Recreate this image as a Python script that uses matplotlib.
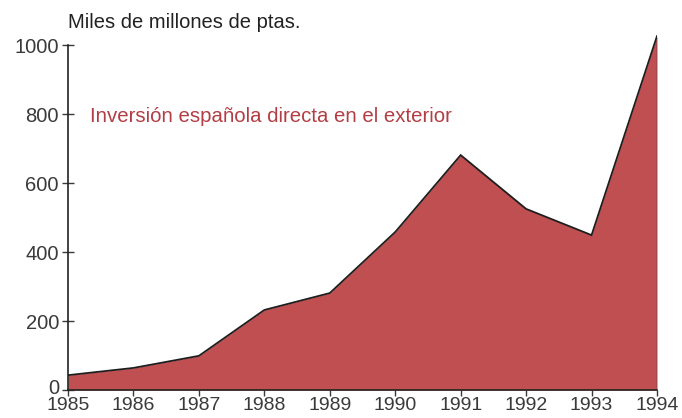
import matplotlib
matplotlib.use("Agg")
import matplotlib.pyplot as plt
import matplotlib.transforms as mtransforms

years = [1985, 1986, 1987, 1988, 1989, 1990, 1991, 1992, 1993, 1994]
inversion = [43, 64, 99, 232, 281, 458, 681, 525, 449, 1026]
yticks = [0, 200, 400, 600, 800, 1000]

plt.rcParams['font.family'] = ['Liberation Sans', 'DejaVu Sans']

fig = plt.figure(figsize=(6.82, 4.18), dpi=100)
fig.patch.set_facecolor('white')
ax = fig.add_axes([68/682, 1-390/418, (657-68)/682, (390-34.7)/418])

fill_color = '#c04f52'
ax.fill_between(years, 0, inversion, color=fill_color, linewidth=0, zorder=2)
ax.plot(years, inversion, color='#1e1e1e', linewidth=1.3, zorder=3, solid_joinstyle='miter')
ax.plot([years[-1], years[-1]], [0, inversion[-1]], color='#333333', linewidth=1.0, zorder=3)

ax.set_xlim(years[0], years[-1])
ax.set_ylim(0, 1030)
ax.set_xticks(years)
ax.set_yticks(yticks)
ax.set_xticklabels([str(y) for y in years])
ax.set_yticklabels([str(v) for v in yticks])

for s in ['top', 'right']:
    ax.spines[s].set_visible(False)
ax.spines['left'].set_bounds(0, 1000)
ax.spines['left'].set_color('#222222')
ax.spines['bottom'].set_color('#222222')
ax.spines['left'].set_linewidth(1.2)
ax.spines['bottom'].set_linewidth(1.2)

ax.tick_params(axis='y', direction='inout', length=9, width=1, colors='#3a3a3a',
               labelsize=14.5, pad=2)
ax.tick_params(axis='x', direction='out', length=4, width=1, colors='#3a3a3a',
               labelsize=14, pad=1)

# lift the "0" label a little so it clears the year labels
ylabels = ax.get_yticklabels()
ylabels[0].set_transform(ylabels[0].get_transform() +
                         mtransforms.ScaledTranslation(0, 3/100, fig.dpi_scale_trans))

ax.set_facecolor('white')

fig.text(68/682, 1-22/418, 'Miles de millones de ptas.', fontsize=14.5,
         color='#222222', ha='left', va='center')
ax.text(1985.34, 793, 'Inversión española directa en el exterior', fontsize=14.7,
        color='#b23e45', ha='left', va='center', zorder=4)

fig.savefig('out.png', dpi=100, facecolor='white')
